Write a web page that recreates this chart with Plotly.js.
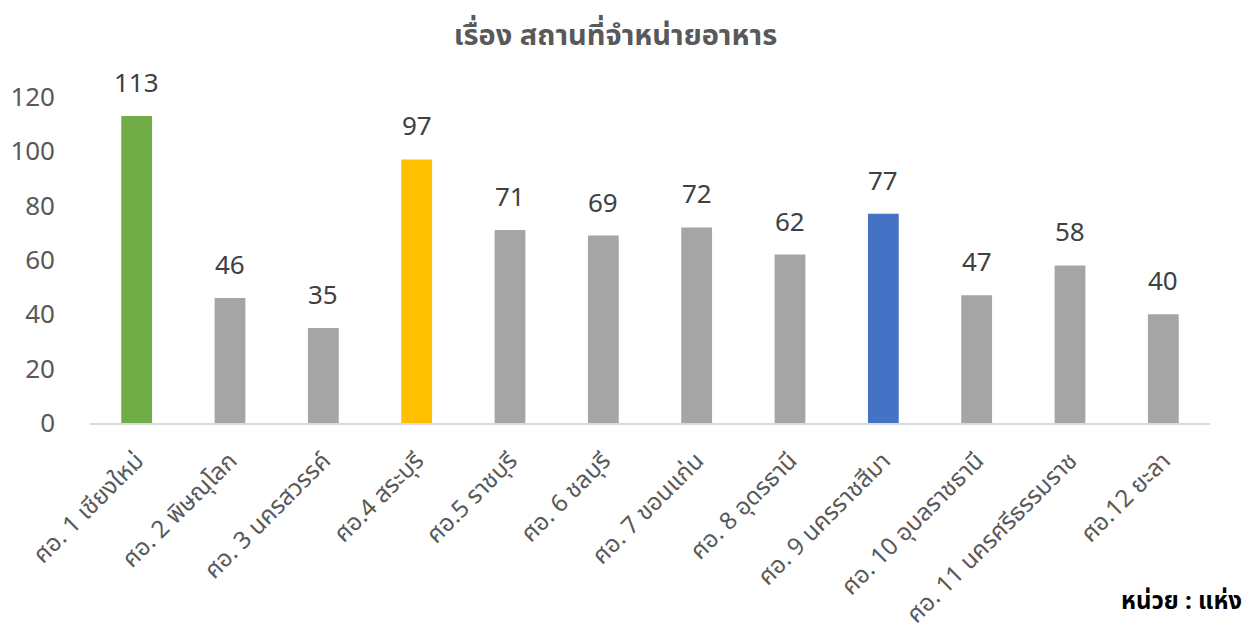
<!DOCTYPE html>
<html>
<head>
<meta charset="utf-8">
<script src="https://cdn.plot.ly/plotly-3.0.1.min.js"></script>
<style>html,body{margin:0;padding:0;background:#fff;}#chart{width:1256px;height:632px;}</style>
</head>
<body>
<div id="chart"></div>
<script>
const categories = ["ศอ. 1 เชียงใหม่", "ศอ. 2 พิษณุโลก", "ศอ. 3 นครสวรรค์", "ศอ.4 สระบุรี", "ศอ.5 ราชบุรี", "ศอ. 6 ชลบุรี", "ศอ. 7 ขอนแก่น", "ศอ. 8 อุดรธานี", "ศอ. 9 นครราชสีมา", "ศอ. 10 อุบลราชธานี", "ศอ. 11 นครศรีธรรมราช", "ศอ.12 ยะลา"];
const values = [113, 46, 35, 97, 71, 69, 72, 62, 77, 47, 58, 40];
const barColors = ["#70AD47", "#A5A5A5", "#A5A5A5", "#FFC000", "#A5A5A5", "#A5A5A5", "#A5A5A5", "#A5A5A5", "#4472C4", "#A5A5A5", "#A5A5A5", "#A5A5A5"];
const yTicks = [0, 20, 40, 60, 80, 100, 120];

const font = "'Noto Sans Thai', 'Noto Sans', 'DejaVu Sans', sans-serif";

const labelAnnotations = categories.map((c, i) => ({
  x: c, y: values[i], xref: 'x', yref: 'y',
  text: String(values[i]), showarrow: false,
  yanchor: 'bottom', yshift: 10,
  font: {family: font, size: 26, color: '#404040'}
}));

Plotly.newPlot('chart', [{
  type: 'bar',
  x: categories,
  y: values,
  marker: {color: barColors},
  cliponaxis: false,
  hoverinfo: 'x+y'
}], {
  width: 1256, height: 632,
  margin: {l: 90, r: 46, t: 97, b: 209},
  paper_bgcolor: '#fff', plot_bgcolor: '#fff',
  bargap: 0.67,
  showlegend: false,
  title: {text: '<b>เรื่อง สถานที่จำหน่ายอาหาร</b>', x: 0.49, xanchor: 'center', y: 0.945, yanchor: 'middle', font: {family: font, size: 29, color: '#595959'}},
  xaxis: {
    tickangle: -45,
    tickfont: {family: font, size: 24, color: '#595959'},
    showline: true, linecolor: '#D9D9D9', linewidth: 2,
    showgrid: false, ticks: '', fixedrange: true,
    ticklabelstandoff: 12
  },
  yaxis: {
    range: [0, 120],
    tickvals: yTicks,
    ticktext: yTicks.map(String),
    tickfont: {family: font, size: 26, color: '#595959'},
    showgrid: false, zeroline: false, showline: false,
    ticklabelstandoff: 34,
    fixedrange: true
  },
  annotations: labelAnnotations.concat([{
    text: '<b>หน่วย : แห่ง</b>', xref: 'paper', yref: 'paper',
    x: 1.03, y: -0.55, xanchor: 'right', yanchor: 'middle', showarrow: false,
    font: {family: font, size: 24, color: '#000'}
  }])
}, {displayModeBar: false, staticPlot: true});
</script>
</body>
</html>
